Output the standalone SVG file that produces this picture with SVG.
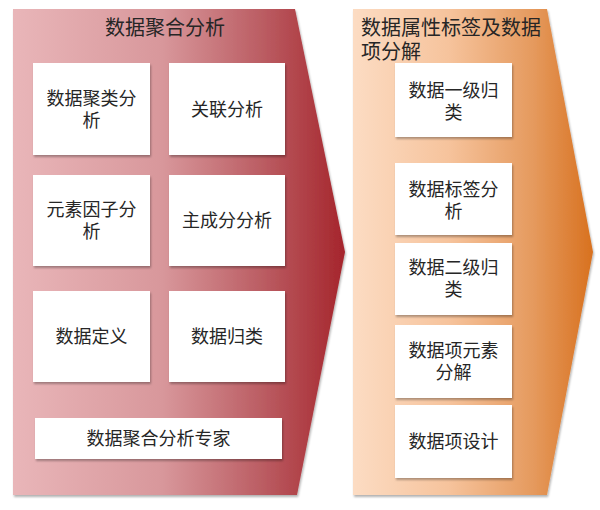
<svg xmlns="http://www.w3.org/2000/svg" width="600" height="510" viewBox="0 0 600 510">
<defs>
<linearGradient id="gRed" x1="0" y1="0" x2="1" y2="0">
<stop offset="0" stop-color="#e9b6b9"/>
<stop offset="0.45" stop-color="#d8979b"/>
<stop offset="0.75" stop-color="#bb5d63"/>
<stop offset="1" stop-color="#a5252c"/>
</linearGradient>
<linearGradient id="gOrange" x1="0" y1="0" x2="1" y2="0">
<stop offset="0" stop-color="#fcdcc3"/>
<stop offset="0.4" stop-color="#f6c39c"/>
<stop offset="0.75" stop-color="#e59a5e"/>
<stop offset="1" stop-color="#d8711f"/>
</linearGradient>
<filter id="sh" x="-10%" y="-10%" width="125%" height="130%">
<feDropShadow dx="1" dy="2" stdDeviation="1.2" flood-color="#000" flood-opacity="0.3"/>
</filter>
</defs>
<style>
.box{fill:#ffffff;filter:url(#sh);}
.t{font-family:"Liberation Sans","Noto Sans CJK SC",sans-serif;font-size:18px;fill:#262626;text-anchor:middle;}
.title{font-family:"Liberation Sans","Noto Sans CJK SC",sans-serif;font-size:20px;fill:#262626;}
</style>
<g id="panel-left">
<polygon points="13,9 295,9 345,252 297,495 13,495" fill="url(#gRed)" filter="url(#sh)"/>
<text class="title" x="165" y="35" text-anchor="middle">数据聚合分析</text>
</g>
<g id="panel-right">
<polygon points="353,9 547,9 593,252 547,495 353,495" fill="url(#gOrange)" filter="url(#sh)"/>
<text class="title" x="361" y="35">数据属性标签及数据</text>
<text class="title" x="361" y="59">项分解</text>
</g>
<g id="n1"><rect class="box" x="33" y="63" width="117" height="92"/><text class="t" x="91.5" y="105">数据聚类分</text><text class="t" x="91.5" y="127">析</text></g>
<g id="n2"><rect class="box" x="169" y="63" width="116" height="92"/><text class="t" x="227" y="116">关联分析</text></g>
<g id="n3"><rect class="box" x="33" y="175" width="117" height="91"/><text class="t" x="91.5" y="216">元素因子分</text><text class="t" x="91.5" y="238">析</text></g>
<g id="n4"><rect class="box" x="169" y="175" width="116" height="91"/><text class="t" x="227" y="227">主成分分析</text></g>
<g id="n5"><rect class="box" x="33" y="291" width="117" height="91"/><text class="t" x="91.5" y="343">数据定义</text></g>
<g id="n6"><rect class="box" x="169" y="291" width="116" height="91"/><text class="t" x="227" y="343">数据归类</text></g>
<g id="n7"><rect class="box" x="35" y="418" width="247" height="41"/><text class="t" x="158.5" y="445">数据聚合分析专家</text></g>
<g id="r1"><rect class="box" x="395" y="63" width="117" height="74"/><text class="t" x="453.5" y="97">数据一级归</text><text class="t" x="453.5" y="119">类</text></g>
<g id="r2"><rect class="box" x="395" y="163" width="117" height="72"/><text class="t" x="453.5" y="196">数据标签分</text><text class="t" x="453.5" y="218">析</text></g>
<g id="r3"><rect class="box" x="395" y="243" width="117" height="72"/><text class="t" x="453.5" y="274">数据二级归</text><text class="t" x="453.5" y="296">类</text></g>
<g id="r4"><rect class="box" x="395" y="325" width="117" height="73"/><text class="t" x="453.5" y="357">数据项元素</text><text class="t" x="453.5" y="379">分解</text></g>
<g id="r5"><rect class="box" x="395" y="405" width="117" height="73"/><text class="t" x="453.5" y="448">数据项设计</text></g>
<g id="connectors"/>
</svg>
